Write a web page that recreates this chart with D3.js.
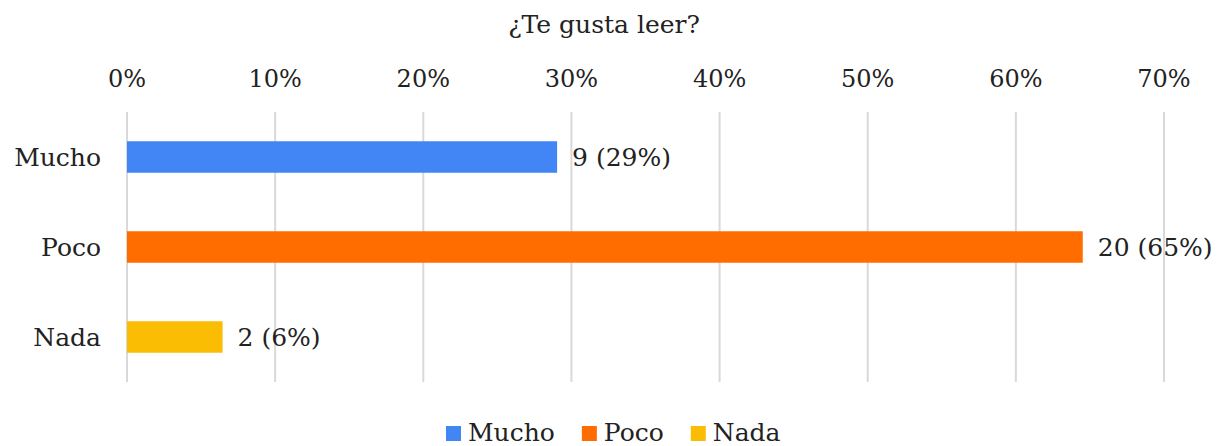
<!DOCTYPE html>
<html>
<head>
<meta charset="utf-8">
<script src="https://cdn.jsdelivr.net/npm/d3@7"></script>
<style>
  body { margin: 0; background: #fff; }
  text { font-family: "DejaVu Serif", Georgia, serif; fill: #222; }
</style>
</head>
<body>
<div id="chart"></div>
<script>
// respuestas a "¿Te gusta leer?"
const categories = ['Mucho', 'Poco', 'Nada'];
const counts = [9, 20, 2];
const colors = ['#4285f4', '#ff6d01', '#fbbc04'];
const xTicks = [0, 0.1, 0.2, 0.3, 0.4, 0.5, 0.6, 0.7];

const total = d3.sum(counts);
const data = categories.map((c, i) => ({name: c, count: counts[i], pct: counts[i] / total, color: colors[i]}));

const width = 1228, height = 446;
const margin = {top: 112, right: 64, bottom: 64, left: 127};
const innerW = width - margin.left - margin.right;
const innerH = height - margin.top - margin.bottom;

const svg = d3.select('#chart').append('svg')
    .attr('width', width)
    .attr('height', height);

svg.append('text')
    .attr('x', 604)
    .attr('y', 33)
    .attr('text-anchor', 'middle')
    .style('font-size', '25px')
    .text('¿Te gusta leer?');

const chart = svg.append('g')
    .attr('transform', `translate(${margin.left},${margin.top})`);

const x = d3.scaleLinear().domain([0, 0.7]).range([0, innerW]);
const y = d3.scaleBand().domain(categories).range([0, innerH]).paddingInner(0.65).paddingOuter(0.325);

// gridlines
chart.selectAll('.grid')
    .data(xTicks)
    .join('line')
    .attr('class', 'grid')
    .attr('x1', d => x(d)).attr('x2', d => x(d))
    .attr('y1', 0).attr('y2', innerH)
    .attr('stroke', '#d9d9d9')
    .attr('stroke-width', 2);

// top axis labels
chart.selectAll('.tick-label')
    .data(xTicks)
    .join('text')
    .attr('class', 'tick-label')
    .attr('x', d => x(d))
    .attr('y', -25)
    .attr('text-anchor', 'middle')
    .style('font-size', '24px')
    .text(d => d3.format('.0%')(d));

chart.selectAll('.bar')
    .data(data)
    .join('rect')
    .attr('class', 'bar')
    .attr('x', x(0))
    .attr('y', d => y(d.name))
    .attr('width', d => x(d.pct) - x(0))
    .attr('height', y.bandwidth())
    .attr('fill', d => d.color);

chart.selectAll('.cat-label')
    .data(data)
    .join('text')
    .attr('class', 'cat-label')
    .attr('x', -26)
    .attr('y', d => y(d.name) + y.bandwidth() / 2)
    .attr('dy', '0.35em')
    .attr('text-anchor', 'end')
    .style('font-size', '25px')
    .text(d => d.name);

chart.selectAll('.val-label')
    .data(data)
    .join('text')
    .attr('class', 'val-label')
    .attr('x', d => x(d.pct) + 15)
    .attr('y', d => y(d.name) + y.bandwidth() / 2)
    .attr('dy', '0.35em')
    .style('font-size', '25px')
    .text(d => `${d.count} (${Math.round(d.pct * 100)}%)`);

// legend
const legend = svg.append('g').attr('class', 'legend');
let lx = 446;
data.forEach(d => {
    const item = legend.append('g').attr('transform', `translate(${lx},0)`);
    item.append('rect')
        .attr('x', 0).attr('y', 426)
        .attr('width', 15).attr('height', 15)
        .attr('fill', d.color);
    const t = item.append('text')
        .attr('x', 22).attr('y', 441)
        .style('font-size', '25px')
        .text(d.name);
    lx += 22 + t.node().getComputedTextLength() + 27;
});
</script>
</body>
</html>
